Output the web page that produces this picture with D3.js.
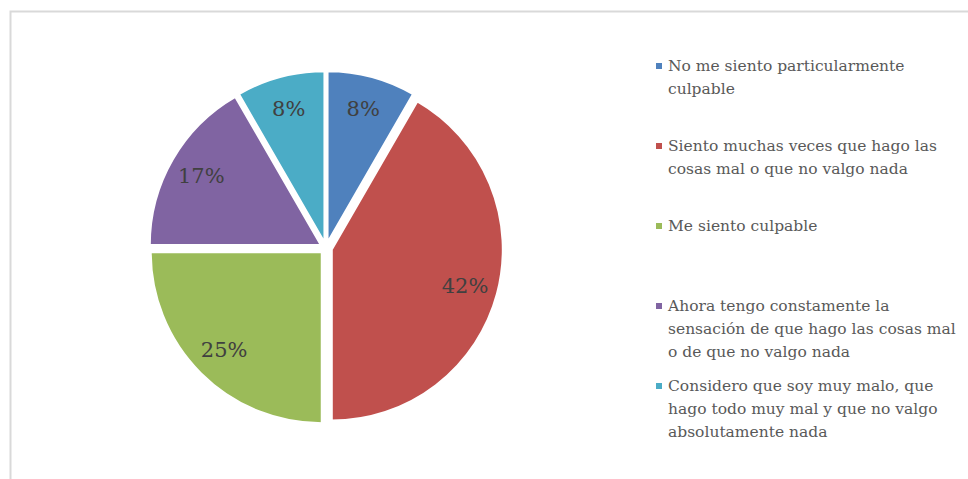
<!DOCTYPE html>
<html>
<head>
<meta charset="utf-8">
<script src="https://cdn.jsdelivr.net/npm/d3@7"></script>
<style>
  body { margin: 0; background: #fff; }
  svg { display: block; }
</style>
</head>
<body>
<svg id="chart" width="968" height="479"></svg>
<script>
// datos del gráfico
const categories = [
  "No me siento particularmente culpable",
  "Siento muchas veces que hago las cosas mal o que no valgo nada",
  "Me siento culpable",
  "Ahora tengo constamente la sensación de que hago las cosas mal o de que no valgo nada",
  "Considero que soy muy malo, que hago todo muy mal y que no valgo absolutamente nada"
];
const values = [1, 5, 3, 2, 1];
const colors = ["#4F81BD", "#C0504D", "#9BBB59", "#8064A2", "#4BACC6"];

const W = 968, H = 479;
const cx = 326, cy = 248, R = 171, explode = 6;
const font = "'DejaVu Serif', serif";

const svg = d3.select("#chart");

// borde del área del gráfico
svg.append("path")
  .attr("d", `M10.5,${H} V11.5 H${W}`)
  .attr("fill", "none")
  .attr("stroke", "#d9d9d9")
  .attr("stroke-width", 2);

const total = d3.sum(values);
const pie = d3.pie().sort(null).value(d => d)(values);
const arc = d3.arc().innerRadius(0).outerRadius(R);

const g = svg.append("g").attr("transform", `translate(${cx},${cy})`);

const slices = g.selectAll("g.slice")
  .data(pie)
  .join("g")
  .attr("class", "slice")
  .attr("transform", d => {
    const a = (d.startAngle + d.endAngle) / 2;
    return `translate(${Math.sin(a) * explode},${-Math.cos(a) * explode})`;
  });

slices.append("path")
  .attr("d", arc)
  .attr("fill", (d, i) => colors[i])
  .attr("stroke", "#fff")
  .attr("stroke-width", 2);

// etiquetas de porcentaje
const labelR = 138;
slices.append("text")
  .attr("x", d => Math.sin((d.startAngle + d.endAngle) / 2) * labelR)
  .attr("y", d => -Math.cos((d.startAngle + d.endAngle) / 2) * labelR)
  .attr("dy", "0.35em")
  .attr("text-anchor", "middle")
  .attr("font-family", font)
  .attr("font-size", 21)
  .attr("fill", "#404040")
  .text(d => Math.round(d.value / total * 100) + "%");

// leyenda
const legX = 656, legText = 668, legY0 = 66, legStep = 80, lineH = 22.7, maxW = 292;
const legend = svg.append("g");

categories.forEach((cat, i) => {
  const y = legY0 + i * legStep;
  legend.append("rect")
    .attr("x", legX).attr("y", y - 3)
    .attr("width", 6).attr("height", 6)
    .attr("fill", colors[i]);

  const t = legend.append("text")
    .attr("font-family", font)
    .attr("font-size", 15.5)
    .attr("fill", "#595959");

  // partir en líneas según el ancho disponible
  const words = cat.split(" ");
  let line = [], n = 0;
  let ts = t.append("tspan").attr("x", legText).attr("y", y).attr("dy", "0.35em");
  words.forEach(w => {
    line.push(w);
    ts.text(line.join(" "));
    if (ts.node().getComputedTextLength() > maxW && line.length > 1) {
      line.pop();
      ts.text(line.join(" "));
      line = [w];
      n++;
      ts = t.append("tspan").attr("x", legText).attr("y", y + n * lineH).attr("dy", "0.35em").text(w);
    }
  });
});
</script>
</body>
</html>
